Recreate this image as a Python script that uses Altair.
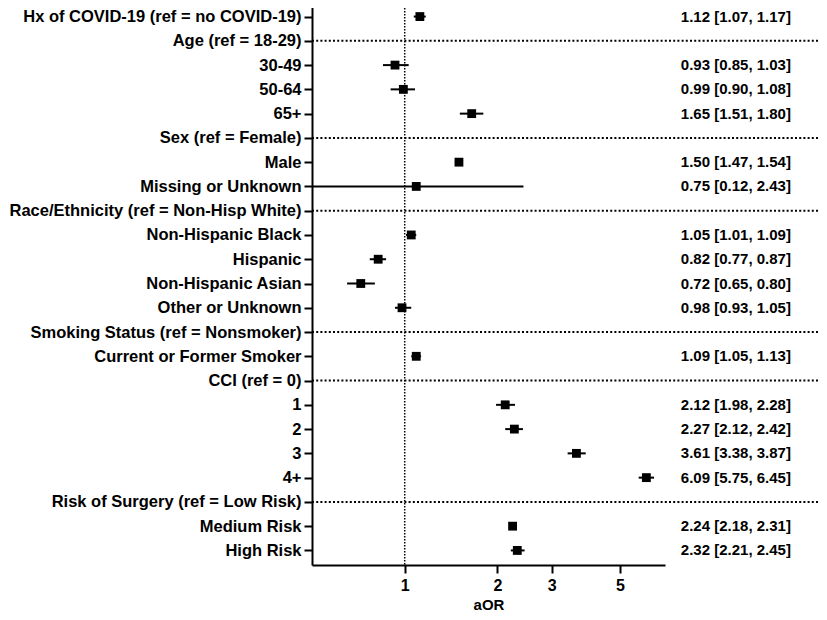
import altair as alt
import pandas as pd

rows = [
    "Hx of COVID-19 (ref = no COVID-19)",
    "Age (ref = 18-29)",
    "30-49", "50-64", "65+",
    "Sex (ref = Female)",
    "Male", "Missing or Unknown",
    "Race/Ethnicity (ref = Non-Hisp White)",
    "Non-Hispanic Black", "Hispanic", "Non-Hispanic Asian", "Other or Unknown",
    "Smoking Status (ref = Nonsmoker)",
    "Current or Former Smoker",
    "CCI (ref = 0)",
    "1", "2", "3", "4+",
    "Risk of Surgery (ref = Low Risk)",
    "Medium Risk", "High Risk",
]
headers = [
    "Age (ref = 18-29)",
    "Sex (ref = Female)",
    "Race/Ethnicity (ref = Non-Hisp White)",
    "Smoking Status (ref = Nonsmoker)",
    "CCI (ref = 0)",
    "Risk of Surgery (ref = Low Risk)",
]
# plotted estimates, lower and upper bounds (None for header rows)
est = [1.12, None, 0.93, 0.99, 1.65, None, 1.50, 1.09, None, 1.05, 0.82, 0.72, 0.98,
       None, 1.09, None, 2.12, 2.27, 3.61, 6.09, None, 2.24, 2.32]
lo = [1.07, None, 0.85, 0.90, 1.51, None, 1.47, 0.12, None, 1.01, 0.77, 0.65, 0.93,
      None, 1.05, None, 1.98, 2.12, 3.38, 5.75, None, 2.18, 2.21]
hi = [1.17, None, 1.03, 1.08, 1.80, None, 1.54, 2.43, None, 1.09, 0.87, 0.80, 1.05,
      None, 1.13, None, 2.28, 2.42, 3.87, 6.45, None, 2.31, 2.45]
labels = [
    "1.12 [1.07, 1.17]", "", "0.93 [0.85, 1.03]", "0.99 [0.90, 1.08]", "1.65 [1.51, 1.80]",
    "", "1.50 [1.47, 1.54]", "0.75 [0.12, 2.43]", "", "1.05 [1.01, 1.09]",
    "0.82 [0.77, 0.87]", "0.72 [0.65, 0.80]", "0.98 [0.93, 1.05]", "",
    "1.09 [1.05, 1.13]", "", "2.12 [1.98, 2.28]", "2.27 [2.12, 2.42]",
    "3.61 [3.38, 3.87]", "6.09 [5.75, 6.45]", "", "2.24 [2.18, 2.31]", "2.32 [2.21, 2.45]",
]
x_ticks = [1, 2, 3, 5]
ref_value = [1]
x_domain = [0.5, 7]
text_col_at = 7.88      # aOR position where the estimate column starts
sep_end_at = 22.5       # aOR position where the dotted separators end

df = pd.DataFrame({"row": rows, "est": est, "lo": lo, "hi": hi, "label": labels})
data_df = df.dropna(subset=["est"])
head_df = pd.DataFrame({"row": headers})
ref_df = pd.DataFrame({"x": ref_value})

FONT = "Liberation Sans"
W, H = 353, 563

xscale = alt.Scale(type="log", domain=x_domain, nice=False)
yenc = alt.Y("row:N", sort=rows,
             scale=alt.Scale(type="point", padding=0.6),
             axis=alt.Axis(title=None, labelFontSize=16.5, labelFontWeight="bold",
                           labelFont=FONT, labelColor="black", labelPadding=3,
                           tickSize=8, tickWidth=2, tickColor="black",
                           domainWidth=2, domainColor="black", labelLimit=400))
xaxis = alt.Axis(values=x_ticks, format="~g", title="aOR", titleFontSize=15,
                 titleFontWeight="bold", titleFont=FONT, titleColor="black",
                 labelFontSize=16, labelFontWeight="bold", labelFont=FONT,
                 labelColor="black", labelPadding=4, tickSize=8, tickWidth=2,
                 tickColor="black", domainWidth=2, domainColor="black",
                 grid=False, titlePadding=4)

ref = alt.Chart(ref_df).mark_rule(color="black", strokeWidth=1.5,
                                  strokeDash=[1.5, 1.5]).encode(
    x=alt.X("x:Q", scale=xscale, axis=xaxis))

sep = alt.Chart(head_df).mark_rule(color="black", strokeWidth=2,
                                   strokeDash=[2, 2.2]).encode(
    y=yenc, x=alt.datum(x_domain[0], scale=xscale), x2=alt.datum(sep_end_at))

bars = alt.Chart(data_df).mark_rule(color="black", strokeWidth=2, clip=True).encode(
    y=yenc, x=alt.X("lo:Q", scale=xscale, axis=xaxis), x2="hi:Q")

pts = alt.Chart(data_df).mark_square(color="black", size=78, opacity=1).encode(
    y=yenc, x=alt.X("est:Q", scale=xscale, axis=xaxis))

txt = alt.Chart(data_df).mark_text(align="left", baseline="middle", fontSize=15,
                                   fontWeight="bold", font=FONT, color="black").encode(
    y=yenc, x=alt.datum(text_col_at, scale=xscale), text="label:N")

chart = alt.layer(ref, sep, bars, pts, txt).properties(
    width=W, height=H,
    autosize=alt.AutoSizeParams(type="none"),
    padding={"left": 304, "top": -6, "right": 154, "bottom": 52},
).configure(background="white").configure_view(strokeWidth=0, stroke="transparent")

chart.save("out.html", embed_options={"renderer": "svg", "actions": False})
